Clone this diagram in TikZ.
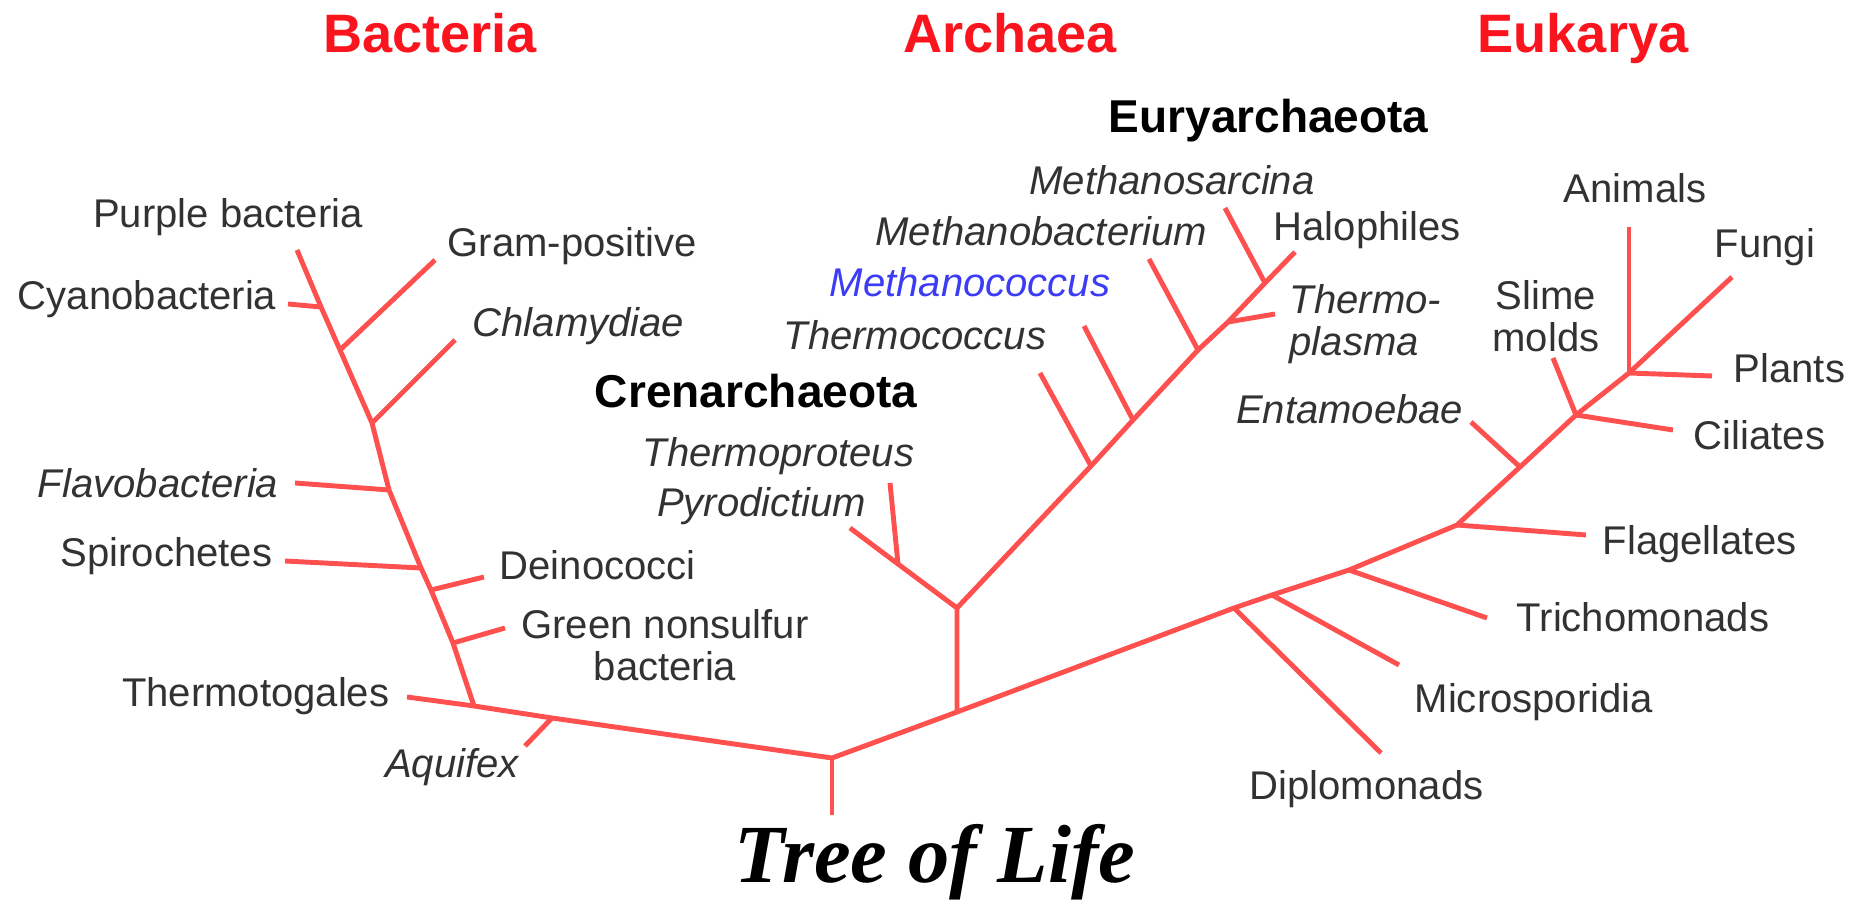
\documentclass[tikz,border=0pt]{standalone}
\usepackage{fontspec}
\setmainfont{Liberation Serif}
\setsansfont{Liberation Sans}
\usepackage{xcolor}
\usepackage{tikz}
\usetikzlibrary{positioning}
\definecolor{treered}{RGB}{255,80,80}
\definecolor{titlered}{RGB}{250,20,30}
\definecolor{labelgrey}{RGB}{50,50,50}
\definecolor{methanoblue}{RGB}{60,60,245}
\tikzset{
  treeline/.style={draw=treered,line width=1.4pt,line join=round},
  taxon/.style={inner sep=0pt,text=labelgrey,
    font=\sffamily\fontsize{11.4}{11.8}\selectfont},
  taxonit/.style={taxon,font=\sffamily\itshape\fontsize{11.4}{11.8}\selectfont},
  domainlabel/.style={inner sep=0pt,text=titlered,
    font=\sffamily\bfseries\fontsize{15.4}{17}\selectfont},
  phylum/.style={inner sep=0pt,text=black,
    font=\sffamily\bfseries\fontsize{13.1}{15}\selectfont},
  treetitle/.style={inner sep=0pt,text=black,
    font=\rmfamily\bfseries\itshape\fontsize{23.5}{26}\selectfont}
}

\begin{document}
\begin{tikzpicture}[x=0.1mm,y=-0.1mm]
  \useasboundingbox (0,0) rectangle (1859,906);

  \node[domainlabel,anchor=base] (bacteria) at (430,53) {Bacteria};
  \node[domainlabel,anchor=base] (archaea) at (1010,53) {Archaea};
  \node[domainlabel,anchor=base] (eukarya) at (1583,53) {Eukarya};
  \node[phylum,anchor=base west] (eury) at (1108,133) {Euryarchaeota};
  \node[phylum,anchor=base east] (cren) at (918,408) {Crenarchaeota};

  % bacteria
  \coordinate (bTop) at (297,250);
  \coordinate (bCyano) at (321,307);
  \coordinate (bGram) at (340,350);
  \coordinate (bChlam) at (372,423);
  \coordinate (bFlavo) at (389,490);
  \coordinate (bSpiro) at (421,568);
  \coordinate (bDeino) at (431,590);
  \coordinate (bGreen) at (453,643);
  \coordinate (bBase) at (474,706);
  \coordinate (bAquifex) at (552,718);
  \coordinate (cyanoTip) at (288,304);
  \coordinate (gramTip) at (435,260);
  \coordinate (chlamTip) at (455,340);
  \coordinate (flavoTip) at (295,483);
  \coordinate (spiroTip) at (285,561);
  \coordinate (deinoTip) at (484,577);
  \coordinate (greenTip) at (505,628);
  \coordinate (thermotogaTip) at (407,697);
  \coordinate (aquifexTip) at (525,746);
  \coordinate (root) at (832,758);
  \coordinate (rootEnd) at (832,815);

  % archaea
  \coordinate (aBase) at (957,712);
  \coordinate (crenFork) at (957,608);
  \coordinate (crenSplit) at (898,564);
  \coordinate (pyroTip) at (850,528);
  \coordinate (thermoprotTip) at (890,483);
  \coordinate (thermococJ) at (1091,466);
  \coordinate (methanococJ) at (1133,420);
  \coordinate (methanobactJ) at (1198,350);
  \coordinate (thermoplasmaJ) at (1228,322);
  \coordinate (euryTop) at (1265,283);
  \coordinate (thermococTip) at (1040,373);
  \coordinate (methanococTip) at (1084,326);
  \coordinate (methanobactTip) at (1149,259);
  \coordinate (thermoplasmaTip) at (1275,314);
  \coordinate (methanosarcTip) at (1225,208);
  \coordinate (haloTip) at (1295,252);

  % eukarya
  \coordinate (diploJ) at (1234,608);
  \coordinate (microJ) at (1272,595);
  \coordinate (trichoJ) at (1349,570);
  \coordinate (flagJ) at (1457,525);
  \coordinate (entJ) at (1520,467);
  \coordinate (slimeJ) at (1576,415);
  \coordinate (plantJ) at (1629,373);
  \coordinate (diploTip) at (1381,753);
  \coordinate (microTip) at (1399,665);
  \coordinate (trichoTip) at (1487,618);
  \coordinate (flagTip) at (1586,535);
  \coordinate (entTip) at (1471,422);
  \coordinate (slimeTip) at (1553,358);
  \coordinate (ciliatesTip) at (1673,430);
  \coordinate (animalsTip) at (1629,227);
  \coordinate (fungiTip) at (1732,277);
  \coordinate (plantsTip) at (1712,376);

  \draw[treeline] (bTop) -- (bCyano) -- (bGram) -- (bChlam) -- (bFlavo)
    -- (bSpiro) -- (bDeino) -- (bGreen) -- (bBase);
  \draw[treeline] (bCyano) -- (cyanoTip);
  \draw[treeline] (bGram) -- (gramTip);
  \draw[treeline] (bChlam) -- (chlamTip);
  \draw[treeline] (bFlavo) -- (flavoTip);
  \draw[treeline] (bSpiro) -- (spiroTip);
  \draw[treeline] (bDeino) -- (deinoTip);
  \draw[treeline] (bGreen) -- (greenTip);
  \draw[treeline] (bAquifex) -- (aquifexTip);
  \draw[treeline] (thermotogaTip) -- (bBase) -- (bAquifex) -- (root) -- (aBase)
    -- (diploJ) -- (microJ) -- (trichoJ) -- (flagJ) -- (entJ) -- (slimeJ) -- (plantJ);
  \draw[treeline] (root) -- (rootEnd);

  \draw[treeline] (aBase) -- (crenFork) -- (crenSplit) -- (pyroTip);
  \draw[treeline] (crenSplit) -- (thermoprotTip);
  \draw[treeline] (crenFork) -- (thermococJ) -- (methanococJ) -- (methanobactJ)
    -- (thermoplasmaJ) -- (euryTop) -- (methanosarcTip);
  \draw[treeline] (euryTop) -- (haloTip);
  \draw[treeline] (thermococJ) -- (thermococTip);
  \draw[treeline] (methanococJ) -- (methanococTip);
  \draw[treeline] (methanobactJ) -- (methanobactTip);
  \draw[treeline] (thermoplasmaJ) -- (thermoplasmaTip);

  \draw[treeline] (diploJ) -- (diploTip);
  \draw[treeline] (microJ) -- (microTip);
  \draw[treeline] (trichoJ) -- (trichoTip);
  \draw[treeline] (flagJ) -- (flagTip);
  \draw[treeline] (entJ) -- (entTip);
  \draw[treeline] (slimeJ) -- (slimeTip);
  \draw[treeline] (slimeJ) -- (ciliatesTip);
  \draw[treeline] (plantJ) -- (animalsTip);
  \draw[treeline] (plantJ) -- (fungiTip);
  \draw[treeline] (plantJ) -- (plantsTip);

  \node[taxon,anchor=base] (purple) at (228,228) {Purple bacteria};
  \node[taxon,anchor=base west] (gram) at (447,257) {Gram-positive};
  \node[taxon,anchor=base east] (cyano) at (277,310) {Cyanobacteria};
  \node[taxonit,anchor=base west] (chlam) at (472,337) {Chlamydiae};
  \node[taxonit,anchor=base east] (flavo) at (279,498) {Flavobacteria};
  \node[taxon,anchor=base east] (spiro) at (273,567) {Spirochetes};
  \node[taxon,anchor=base west] (deino) at (499,580) {Deinococci};
  \node[taxon,align=center,anchor=north] (green) at (665,609) {Green nonsulfur\\bacteria};
  \node[taxon,anchor=base east] (thermotoga) at (390,707) {Thermotogales};
  \node[taxonit,anchor=base] (aquifex) at (452,778) {Aquifex};

  \node[taxonit,anchor=base east] (thermoprot) at (915,467) {Thermoproteus};
  \node[taxonit,anchor=base east] (pyro) at (867,517) {Pyrodictium};
  \node[taxonit,anchor=base east] (thermococ) at (1047,350) {Thermococcus};
  \node[taxonit,anchor=base east,text=methanoblue] (methanococ) at (1111,297) {Methanococcus};
  \node[taxonit,anchor=base east] (methanobact) at (1208,246) {Methanobacterium};
  \node[taxonit,anchor=base] (methanosarc) at (1172,195) {Methanosarcina};
  \node[taxon,anchor=base west] (halo) at (1273,241) {Halophiles};
  \node[taxonit,align=left,anchor=north west] (thermoplasma) at (1289,284) {Thermo-\\plasma};

  \node[taxon,anchor=base] (animals) at (1635,203) {Animals};
  \node[taxon,anchor=base west] (fungi) at (1714,258) {Fungi};
  \node[taxon,align=center,anchor=north] (slime) at (1546,280) {Slime\\molds};
  \node[taxon,anchor=base west] (plants) at (1733,383) {Plants};
  \node[taxonit,anchor=base east] (entam) at (1464,424) {Entamoebae};
  \node[taxon,anchor=base west] (ciliates) at (1693,450) {Ciliates};
  \node[taxon,anchor=base west] (flag) at (1602,555) {Flagellates};
  \node[taxon,anchor=base west] (tricho) at (1516,632) {Trichomonads};
  \node[taxon,anchor=base west] (micro) at (1414,713) {Microsporidia};
  \node[taxon,anchor=base west] (diplo) at (1249,800) {Diplomonads};

  \node[treetitle,anchor=base] (title) at (935,883) {Tree of Life};
\end{tikzpicture}
\end{document}
